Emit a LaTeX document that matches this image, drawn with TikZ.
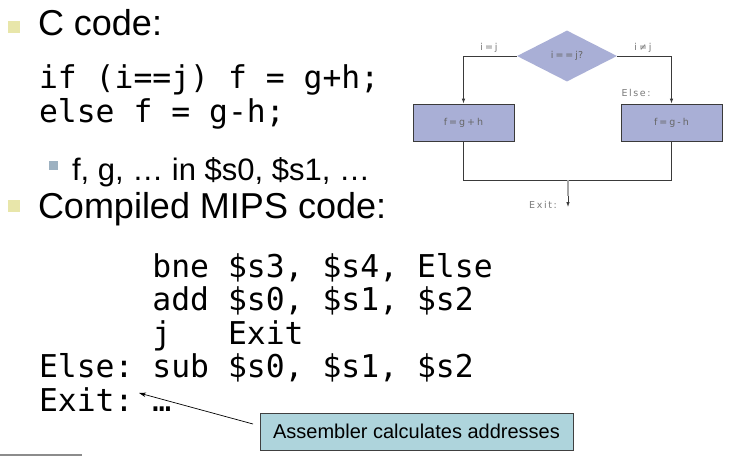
\documentclass[tikz,border=0pt]{standalone}
\usepackage{fontspec}
\setmainfont{Liberation Sans}
\setmonofont{DejaVu Sans Mono}
\newfontfamily\lblfont{DejaVu Sans}
\usetikzlibrary{shapes.geometric,arrows.meta}
\definecolor{bulletyellow}{HTML}{E8E6AA}
\definecolor{bulletblue}{HTML}{9DB1C1}
\definecolor{flowfill}{HTML}{A9AFD6}
\definecolor{callfill}{HTML}{AED4DC}
\definecolor{lblgray}{HTML}{7A7A7A}
\definecolor{flowline}{HTML}{3A3A3A}
\newcommand{\flsp}{\hspace{2pt}}
\tikzset{
  txt/.style={anchor=base west, inner sep=0pt, outer sep=0pt},
  big/.style={txt, font=\fontsize{36}{40}\selectfont},
  sub/.style={txt, font=\fontsize{31}{34}\selectfont},
  code/.style={txt, font=\ttfamily\fontsize{31.4}{34}\selectfont},
  bsq/.style={fill=bulletyellow, draw=none},
  ssq/.style={fill=bulletblue, draw=none},
  flowbox/.style={draw=flowline, line width=0.8pt, fill=flowfill, minimum width=101pt, minimum height=37pt, inner sep=0pt, font=\lblfont\fontsize{9.5}{11}\selectfont, text=black!60},
  flowdia/.style={diamond, aspect=1.96, draw=none, fill=flowfill, minimum width=100pt, minimum height=51pt, inner sep=0pt, font=\lblfont\fontsize{9.5}{11}\selectfont, text=black!60},
  flowlbl/.style={inner sep=0pt, font=\lblfont\fontsize{9.5}{11}\selectfont, text=lblgray},
  flowconn/.style={draw=flowline, line width=0.8pt},
  flowarrow/.style={flowconn, -{Latex[length=5pt,width=3.5pt]}},
  callout/.style={draw=black!75, line width=0.8pt, fill=callfill, minimum width=313pt, minimum height=37pt, inner sep=0pt, font=\fontsize{20}{24}\selectfont},
}
\begin{document}
\begin{tikzpicture}[x=1pt,y=-1pt]
\useasboundingbox (0,0) rectangle (740,456);
\fill[white] (0,0) rectangle (740,456);

% bullets
\fill[bsq] (8,21) rectangle (20,33);
\node[big] (h1) at (38,35) {C code:};
\node[code] (c1) at (39,88) {if~(i==j)~f~=~g+h;};
\node[code] (c2) at (39,122) {else~f~=~g-h;};
\fill[ssq] (49,161) rectangle (58,170);
\node[sub] (s1) at (72,180) {f, g, … in \$s0, \$s1, …};
\fill[bsq] (8,200) rectangle (20,212);
\node[big] (h2) at (38,218) {Compiled MIPS code:};

% MIPS code
\node[code] (m1) at (39,277) {~~~~~~bne~\$s3,~\$s4,~Else};
\node[code] (m2) at (39,310.5) {~~~~~~add~\$s0,~\$s1,~\$s2};
\node[code] (m3) at (39,344) {~~~~~~j~~~Exit};
\node[code] (m4) at (39,377.5) {Else:~sub~\$s0,~\$s1,~\$s2};
\node[code] (m5) at (39,411) {Exit:~…};

% callout
\node[callout] (call) at (416.5,431.5) {Assembler calculates addresses};
\coordinate (calltail) at (253,424);
\coordinate (calltip) at (139,393);
\draw[line width=0.7pt, -{Stealth[length=7pt,width=4.5pt]}] (calltail) -- (calltip);

% footer rule
\coordinate (ruleA) at (0,455);
\coordinate (ruleB) at (82,455);
\draw[black!45, line width=1.2pt] (ruleA) -- (ruleB);

% flowchart
\node[flowdia] (dia) at (567,56) {i\flsp=\flsp=\flsp j?};
\node[flowbox] (lbox) at (463.5,122.5) {f\flsp=\flsp g\flsp+\flsp h};
\node[flowbox] (rbox) at (671.5,122.5) {f\flsp=\flsp g\flsp-\flsp h};
\draw[flowarrow] (dia.west) -| (lbox.north);
\draw[flowarrow] (dia.east) -| (rbox.north);
\coordinate (joinL) at (463.5,180);
\coordinate (joinR) at (671.5,180);
\coordinate (joinM) at (568,180);
\coordinate (exitmid) at (568,196);
\coordinate (exittip) at (568,207);
\draw[flowconn] (lbox.south) -- (joinL) -- (joinR) -- (rbox.south);
\draw[black!35, line width=1.2pt] (joinM) -- (exitmid);
\draw[flowarrow] (exitmid) -- (exittip);
\node[flowlbl] (lblij) at (489,48) {i\flsp=\flsp j};
\node[flowlbl] (lblnij) at (643,48) {i\flsp≠\flsp j};
\node[flowlbl] (lblelse) at (636,93) {E\,l\,s\,e\,:};
\node[flowlbl] (lblexit) at (543,205) {E\,x\,i\,t\,:};
\end{tikzpicture}
\end{document}
